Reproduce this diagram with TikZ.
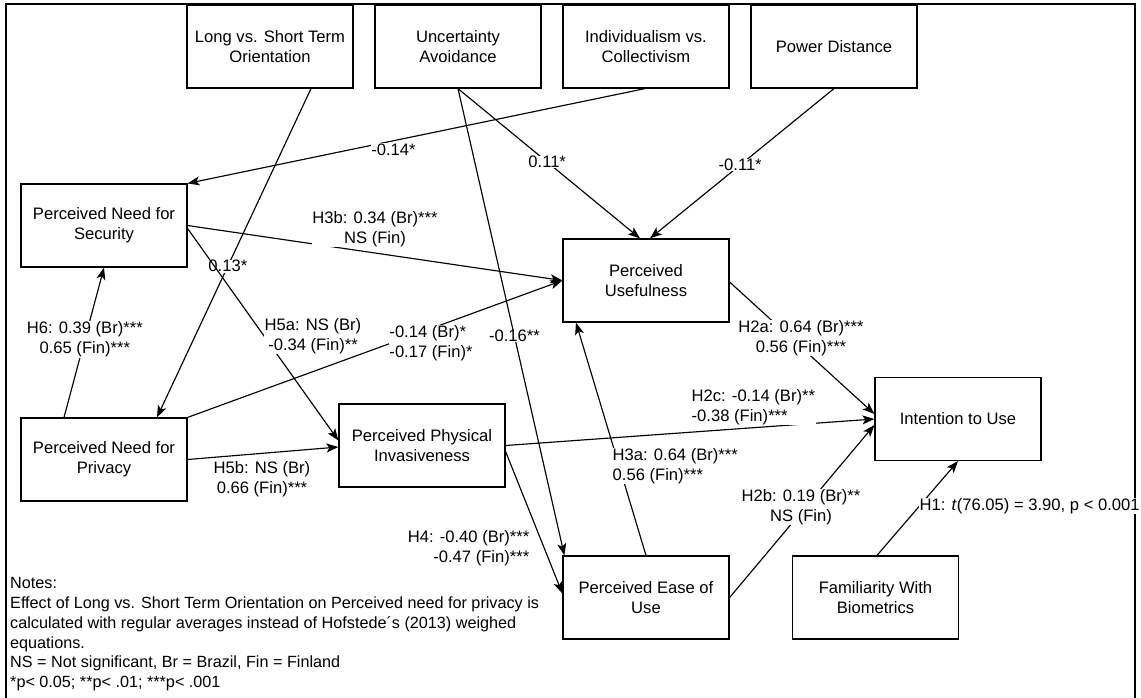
\documentclass[tikz,border=0pt]{standalone}
\usepackage{fontspec}
\setmainfont{Liberation Sans}
\usetikzlibrary{arrows.meta,calc}
\begin{document}
\begin{tikzpicture}[x=1pt,y=-1pt,
  every node/.style={font=\fontsize{16.6}{20.3}\selectfont, text=black},
  box/.style={draw, line width=1.2pt, minimum width=166pt, minimum height=83pt, align=center, inner sep=2pt},
  conn/.style={line width=1.15pt, -{Stealth[length=12pt,width=9pt,inset=3pt]}},
  lbl/.style={fill=white, inner sep=0.5pt, align=center}]
\useasboundingbox (0,0) rectangle (1141,697);
\draw[line width=2pt] (6,700) -- (6,4) -- (1135,4) -- (1135,700);

\node[box] (lst) at (270,46.5) {Long vs. Short Term\\Orientation};
\node[box] (ua) at (458,46.5) {Uncertainty\\Avoidance};
\node[box] (ic) at (646,46.5) {Individualism vs.\\Collectivism};
\node[box] (pd) at (834,46.5) {Power Distance};
\node[box] (pns) at (104,225.5) {Perceived Need for\\Security};
\node[box] (pu) at (646,280.5) {Perceived\\Usefulness};
\node[box] (pnp) at (104,459.5) {Perceived Need for\\Privacy};
\node[box] (ppi) at (422,445.5) {Perceived Physical\\Invasiveness};
\node[box] (iu) at (958,419) {Intention to Use};
\node[box] (peou) at (646,597.5) {Perceived Ease of\\Use};
\node[box] (fam) at (875.5,597.5) {Familiarity With\\Biometrics};

% cultural dimensions
\draw[conn] ([xshift=41pt]lst.south) -- ([xshift=53pt]pnp.north) node[lbl,pos=0.54] (l1) {0.13*};
\draw[conn] ([xshift=-1pt]ic.south) -- (pns.north east) node[lbl,pos=0.55,yshift=-9pt] (l2) {-0.14*};
\draw[conn] (ua.south) -- ([xshift=-6pt]pu.north) node[lbl,pos=0.49] (l3) {0.11*};
\draw[conn] (pd.south) -- ([xshift=4pt]pu.north) node[lbl,pos=0.51] (l4) {-0.11*};
\draw[conn] (ua.south) -- ([xshift=2pt]peou.north west) node[lbl,pos=0.53] (l5) {-0.16**};

% security / privacy
\draw[conn] (pns.east) -- (pu.west);
\node[lbl] (l6) at (375,229) {H3b: 0.34 (Br)***\\NS (Fin)};
\draw[conn] ([yshift=-3pt]pns.east) -- ([yshift=5pt]ppi.west);
\node[lbl] (l7) at (313,336) {H5a: NS (Br)\\-0.34 (Fin)**};
\draw[conn] ([xshift=-40pt]pnp.north) -- (pns.south) node[lbl,pos=0.52] (l8) {H6: 0.39 (Br)***\\0.65 (Fin)***};
\draw[conn] (pnp.north east) -- (pu.west);
\node[lbl,align=left] (l9) at (431,343) {-0.14 (Br)*\\-0.17 (Fin)*};
\draw[conn] (pnp.east) -- ([yshift=-1.5pt]ppi.west);
\node[lbl] (l10) at (262,479) {H5b: NS (Br)\\0.66 (Fin)***};

% TAM part
\draw[conn] (ppi.east) -- (iu.west);
\node[lbl,align=left,anchor=west] (l11) at (691,407) {H2c: -0.14 (Br)**\\-0.38 (Fin)***};
\draw[conn] ([yshift=-1.5pt]pu.east) -- ([yshift=5pt]iu.west);
\node[lbl] (l12) at (801,338) {H2a: 0.64 (Br)***\\0.56 (Fin)***};
\draw[conn] (peou.north) -- ([xshift=-70pt]pu.south);
\node[lbl,align=left,anchor=west] (l13) at (612,466) {H3a: 0.64 (Br)***\\0.56 (Fin)***};
\draw[conn] ([yshift=-6pt]ppi.east) -- ([yshift=4pt]peou.west);
\node[lbl,align=right,anchor=east] (l14) at (530,548) {H4: -0.40 (Br)***\\-0.47 (Fin)***};
\draw[conn] (peou.east) -- ([yshift=-6pt]iu.west);
\node[lbl] (l15) at (801,507) {H2b: 0.19 (Br)**\\NS (Fin)};
\draw[conn] ([xshift=1.5pt]fam.north) -- (iu.south);
\node[lbl,anchor=west] (l16) at (919,506) {H1: \textit{t}(76.05) = 3.90, p < 0.001};

% notes
\node[anchor=north west, align=left, inner sep=0pt, font=\fontsize{16.2}{19.9}\selectfont] (notes) at (10,577) {Notes:\\Effect of Long vs. Short Term Orientation on Perceived need for privacy is\\calculated with regular averages instead of Hofstede´s (2013) weighed\\equations.\\NS = Not significant, Br = Brazil, Fin = Finland\\*p< 0.05; **p< .01; ***p< .001};
\end{tikzpicture}
\end{document}
